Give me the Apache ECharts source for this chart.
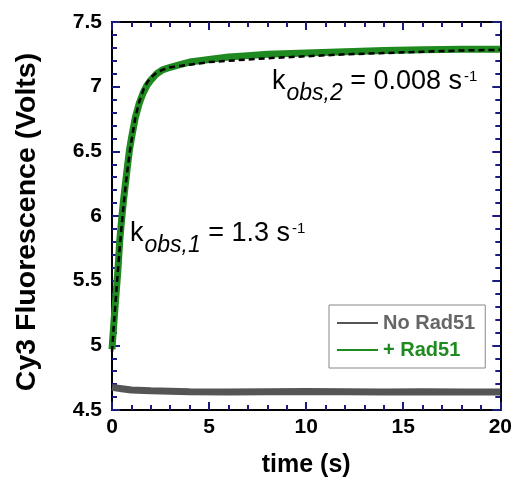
<!DOCTYPE html>
<html>
<head>
<meta charset="utf-8">
<script src="https://cdn.jsdelivr.net/npm/echarts@6/dist/echarts.min.js"></script>
<style>html,body{margin:0;padding:0;background:#fff}#c{width:515px;height:483px}</style>
</head>
<body>
<div id="c"></div>
<script>
// ---- data ----
const rad51Time = [0, 0.1, 0.2, 0.3, 0.4, 0.5, 0.6, 0.7, 0.8, 0.9, 1.0, 1.2, 1.4, 1.6, 1.8, 2.0, 2.3, 2.6, 3.0, 3.5, 4.0, 5, 6, 7, 8, 10, 12, 14, 16, 18, 20];
const rad51Volts = [4.97, 5.18, 5.38, 5.57, 5.81, 5.98, 6.13, 6.26, 6.39, 6.51, 6.60, 6.76, 6.87, 6.95, 7.01, 7.05, 7.10, 7.13, 7.15, 7.17, 7.19, 7.21, 7.23, 7.24, 7.25, 7.26, 7.27, 7.28, 7.285, 7.29, 7.29];
const fitTime = [0, 0.1, 0.2, 0.3, 0.4, 0.5, 0.6, 0.7, 0.8, 0.9, 1.0, 1.2, 1.4, 1.6, 1.8, 2.0, 2.3, 2.6, 3.0, 3.5, 4.0, 5, 6, 7, 8, 10, 12, 14, 16, 18, 20];
const fitVolts = [4.95, 5.17, 5.37, 5.57, 5.76, 5.93, 6.09, 6.23, 6.36, 6.48, 6.58, 6.76, 6.88, 6.97, 7.03, 7.07, 7.11, 7.13, 7.15, 7.16, 7.17, 7.19, 7.20, 7.21, 7.22, 7.235, 7.25, 7.26, 7.27, 7.28, 7.285];
const noRadTime = [0, 0.5, 1, 2, 3, 4, 6, 8, 10, 12, 14, 16, 18, 20];
const noRadVolts = [4.675, 4.665, 4.655, 4.648, 4.645, 4.642, 4.640, 4.642, 4.644, 4.642, 4.640, 4.642, 4.640, 4.640];
const seriesNames = ['No Rad51', '+ Rad51'];
const xTicks = {min: 0, max: 20, interval: 5};
const yTicks = {min: 4.5, max: 7.5, interval: 0.5};

const FONT = '"Liberation Sans", Arial, sans-serif';
const GREEN = '#1f8a1f';
const GRAY = '#555555';
const TICK = '#1a1a80';
function pairs(xs, ys) { return xs.map((x, i) => [x, ys[i]]); }

function axisBase(r) {
  return {
    type: 'value', min: r.min, max: r.max, interval: r.interval,
    axisLine: {show: true, onZero: false, lineStyle: {color: '#000', width: 2}},
    axisTick: {show: true, inside: true, length: 8, lineStyle: {color: TICK, width: 2}},
    minorTick: {show: true, splitNumber: 5, length: 5, lineStyle: {color: TICK, width: 2}},
    splitLine: {show: false},
    minorSplitLine: {show: false}
  };
}

const chart = echarts.init(document.getElementById('c'));
chart.setOption({
  animation: false,
  backgroundColor: '#fff',
  grid: {left: 112, right: 13, top: 22, bottom: 71, containLabel: false},
  xAxis: [
    Object.assign(axisBase(xTicks), {
      position: 'bottom',
      name: 'time (s)', nameLocation: 'middle', nameGap: 43,
      nameTextStyle: {fontFamily: FONT, fontWeight: 'bold', fontSize: 25, color: '#000'},
      axisLabel: {show: true, fontFamily: FONT, fontWeight: 'bold', fontSize: 21, color: '#000', margin: 7}
    }),
    Object.assign(axisBase(xTicks), {position: 'top', axisLabel: {show: false}})
  ],
  yAxis: [
    Object.assign(axisBase(yTicks), {
      position: 'left',
      name: 'Cy3 Fluorescence (Volts)', nameLocation: 'middle', nameGap: 70, nameRotate: 90,
      nameTextStyle: {fontFamily: FONT, fontWeight: 'bold', fontSize: 28.5, color: '#000', padding: [0, 12, 0, 0]},
      axisLabel: {show: true, fontFamily: FONT, fontWeight: 'bold', fontSize: 21, color: '#000', margin: 10}
    }),
    Object.assign(axisBase(yTicks), {position: 'right', axisLabel: {show: false}})
  ],
  legend: {
    orient: 'vertical', left: 329, top: 305,
    backgroundColor: '#fff', borderColor: '#888', borderWidth: 1,
    padding: [8, 10, 8, 8], itemGap: 7, itemWidth: 41, itemHeight: 14,
    data: [
      {name: seriesNames[0], icon: 'path://M0,0 L40,0 L40,1.8 L0,1.8 Z', itemStyle: {color: GRAY}, textStyle: {color: '#666'}},
      {name: seriesNames[1], icon: 'path://M0,0 L40,0 L40,1.8 L0,1.8 Z', itemStyle: {color: GREEN}, textStyle: {color: GREEN}}
    ],
    textStyle: {fontFamily: FONT, fontWeight: 'bold', fontSize: 20}
  },
  series: [
    {name: seriesNames[0], type: 'line', showSymbol: false, symbol: 'none', data: pairs(noRadTime, noRadVolts),
      lineStyle: {color: GRAY, width: 7}, itemStyle: {color: GRAY}, z: 2},
    {name: seriesNames[1], type: 'line', showSymbol: false, symbol: 'none', data: pairs(rad51Time, rad51Volts),
      lineStyle: {color: GREEN, width: 7}, itemStyle: {color: GREEN}, z: 3},
    {name: 'fit', type: 'line', showSymbol: false, symbol: 'none', data: pairs(fitTime, fitVolts),
      lineStyle: {color: '#000', width: 2.5, type: [6, 4]}, z: 4}
  ],
  graphic: [
    {type: 'text', left: 272, top: 68, z: 10, style: {
      text: '{k|k}{sub|obs,2}{m| = 0.008 s}{sup|-1}',
      rich: {
        k: {fontFamily: FONT, fontSize: 27, fill: '#000'},
        sub: {fontFamily: FONT, fontSize: 23, fontStyle: 'italic', fill: '#000', padding: [24, 0, 0, 1]},
        m: {fontFamily: FONT, fontSize: 27, fill: '#000'},
        sup: {fontFamily: FONT, fontSize: 15, fill: '#000', padding: [0, 0, 10, 2]}
      }
    }},
    {type: 'text', left: 130, top: 220, z: 10, style: {
      text: '{k|k}{sub|obs,1}{m| = 1.3 s}{sup|-1}',
      rich: {
        k: {fontFamily: FONT, fontSize: 27, fill: '#000'},
        sub: {fontFamily: FONT, fontSize: 23, fontStyle: 'italic', fill: '#000', padding: [24, 0, 0, 1]},
        m: {fontFamily: FONT, fontSize: 27, fill: '#000'},
        sup: {fontFamily: FONT, fontSize: 15, fill: '#000', padding: [0, 0, 10, 2]}
      }
    }}
  ]
});
</script>
</body>
</html>
